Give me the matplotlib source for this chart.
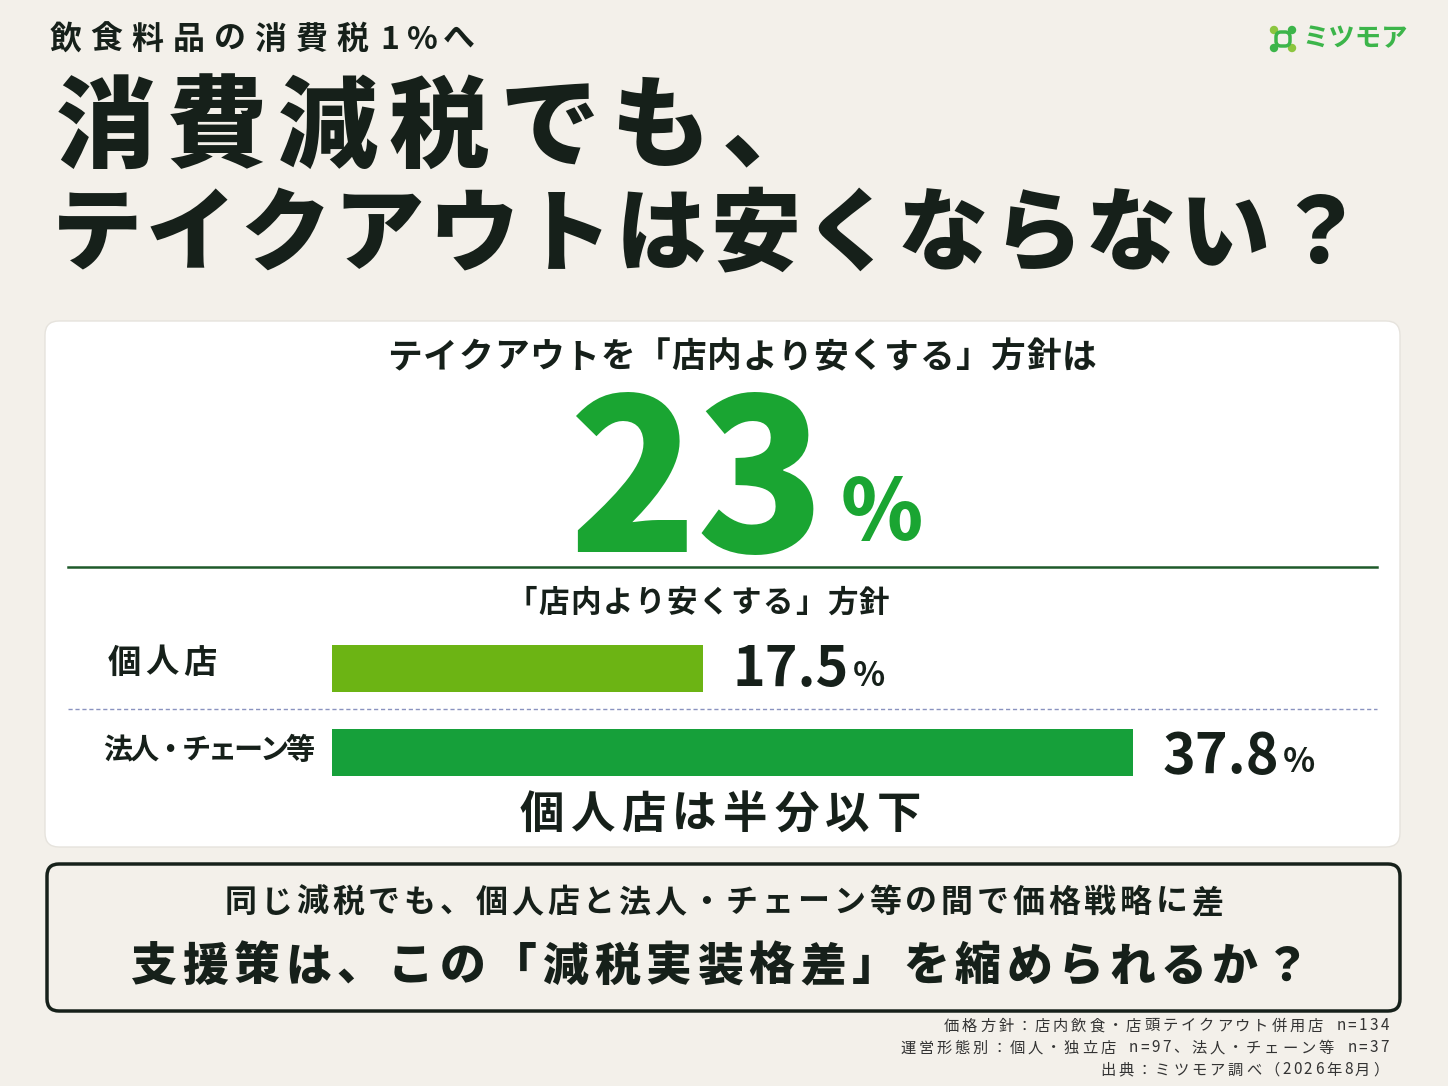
import matplotlib
matplotlib.use("Agg")
import matplotlib.pyplot as plt
from matplotlib.patches import FancyBboxPatch, Circle

plt.rcParams['font.family'] = ['Noto Sans CJK JP', 'DejaVu Sans']

# ── Data ──────────────────────────────────────────────────────────────
categories = ["個人店", "法人・チェーン等"]
values = [17.5, 37.8]
bar_colors = ["#6cb414", "#16a03a"]
headline_value = 23
footer_lines = [
    "価格方針：店内飲食・店頭テイクアウト併用店 n=134",
    "運営形態別：個人・独立店 n=97、法人・チェーン等 n=37",
    "出典：ミツモア調べ（2026年8月）",
]

BG = "#f3f0ea"
DARK = "#16201a"
GREEN = "#1aa532"

fig = plt.figure(figsize=(14.48, 10.86), dpi=100, facecolor=BG)
ax = fig.add_axes([0, 0, 1, 1])
ax.set_xlim(0, 1448)
ax.set_ylim(1086, 0)
ax.axis("off")


def spaced(x, y, text, size, adv, ha="left", ascii_ratio=1.0, **kw):
    """Draw text char by char with a fixed advance (px)."""
    advs = [adv * (ascii_ratio if ord(ch) < 128 else 1.0) for ch in text]
    total = sum(advs)
    if ha == "center":
        x = x - total / 2
    elif ha == "right":
        x = x - total
    for ch, a in zip(text, advs):
        ax.text(x + a / 2, y, ch, fontsize=size, ha="center", va="center", **kw)
        x += a


# ── Header ────────────────────────────────────────────────────────────
spaced(45, 40, "飲食料品の消費税1%へ", 23, 41, ascii_ratio=0.8, color=DARK, fontweight="bold")
spaced(50, 130, "消費減税でも、", 72, 111, color=DARK, fontweight="black")
spaced(50, 236, "テイクアウトは安くならない？", 65, 94, color=DARK, fontweight="black")

# logo
for (cx, cy, c) in [(1274, 30, "#8cc63f"), (1292, 30, "#3cb54a"), (1274, 48, "#3cb54a"), (1292, 48, "#8cc63f")]:
    ax.add_patch(Circle((cx, cy), 3.5, color=c))
ax.add_patch(FancyBboxPatch((1276, 32), 14, 14, boxstyle="round,pad=0,rounding_size=5",
                            fill=False, ec="#3cb54a", lw=2.5))
ax.text(1302, 39, "ミツモア", fontsize=19, color="#3cb54a", ha="left", va="center", fontweight="bold")

# ── Main white panel ──────────────────────────────────────────────────
ax.add_patch(FancyBboxPatch((45, 321), 1355, 526, boxstyle="round,pad=0,rounding_size=14",
                            fc="white", ec="#e6e3dd", lw=1))
spaced(742, 357, "テイクアウトを「店内より安くする」方針は", 25, 35.5, ha="center", color=DARK, fontweight="bold")
ax.text(697, 490, f"{headline_value}", fontsize=152, color=GREEN, ha="center", va="center", fontweight="black")
ax.text(882, 515, "%", fontsize=60, color=GREEN, ha="center", va="center", fontweight="black")
ax.plot([68, 1377], [567, 567], color="#1e5a2a", lw=1.8)

spaced(698, 603, "「店内より安くする」方針", 22, 32, ha="center", color=DARK, fontweight="bold")
ax.plot([68, 1377], [709, 709], color="#8a93c0", lw=1, ls=(0, (3, 2)))

# bars: axes spans x=332..1133 px (0..37.8), y=645..776 px
x0, x1 = 332, 1133
y0, y1 = 645, 776
bax = fig.add_axes([x0 / 1448, 1 - y1 / 1086, (x1 - x0) / 1448, (y1 - y0) / 1086])
bax.set_xlim(0, max(values))
bar_h = 0.563
bax.set_ylim(1 + bar_h / 2, -bar_h / 2)
bax.axis("off")
bax.barh([0, 1], values, height=bar_h, color=bar_colors, left=0)

label_y = [663, 750]
label_size = [24, 21]
label_adv = [38, 26]
value_y = [670, 757]
for cat, v, ly, vy, ls, la in zip(categories, values, label_y, value_y, label_size, label_adv):
    spaced(105, ly, cat, ls, la, color=DARK, fontweight="bold")
    end = x0 + (x1 - x0) * v / max(values)
    ax.text(end + 30, vy, f"{v:.1f}", fontsize=40, color=DARK, ha="left", va="center", fontweight="bold")
    ax.text(end + 30 + 120, vy + 6, "%", fontsize=24, color=DARK, ha="left", va="center", fontweight="bold")

spaced(720, 815, "個人店は半分以下", 32, 51, ha="center", color=DARK, fontweight="bold")

# ── Bottom message box ────────────────────────────────────────────────
ax.add_patch(FancyBboxPatch((47, 864), 1353, 147, boxstyle="round,pad=0,rounding_size=12",
                            fc=BG, ec=DARK, lw=2.5))
spaced(724, 903, "同じ減税でも、個人店と法人・チェーン等の間で価格戦略に差", 23, 35.8, ha="center", color=DARK, fontweight="bold")
spaced(720, 967, "支援策は、この「減税実装格差」を縮められるか？", 33, 51.5, ha="center", color=DARK, fontweight="black")

# ── Footer ────────────────────────────────────────────────────────────
for i, line in enumerate(footer_lines):
    spaced(1390, 1026 + i * 22, line, 11, 18.2, ha="right", ascii_ratio=0.6, color="#333333")

fig.savefig("out.png", dpi=100, facecolor=BG)
